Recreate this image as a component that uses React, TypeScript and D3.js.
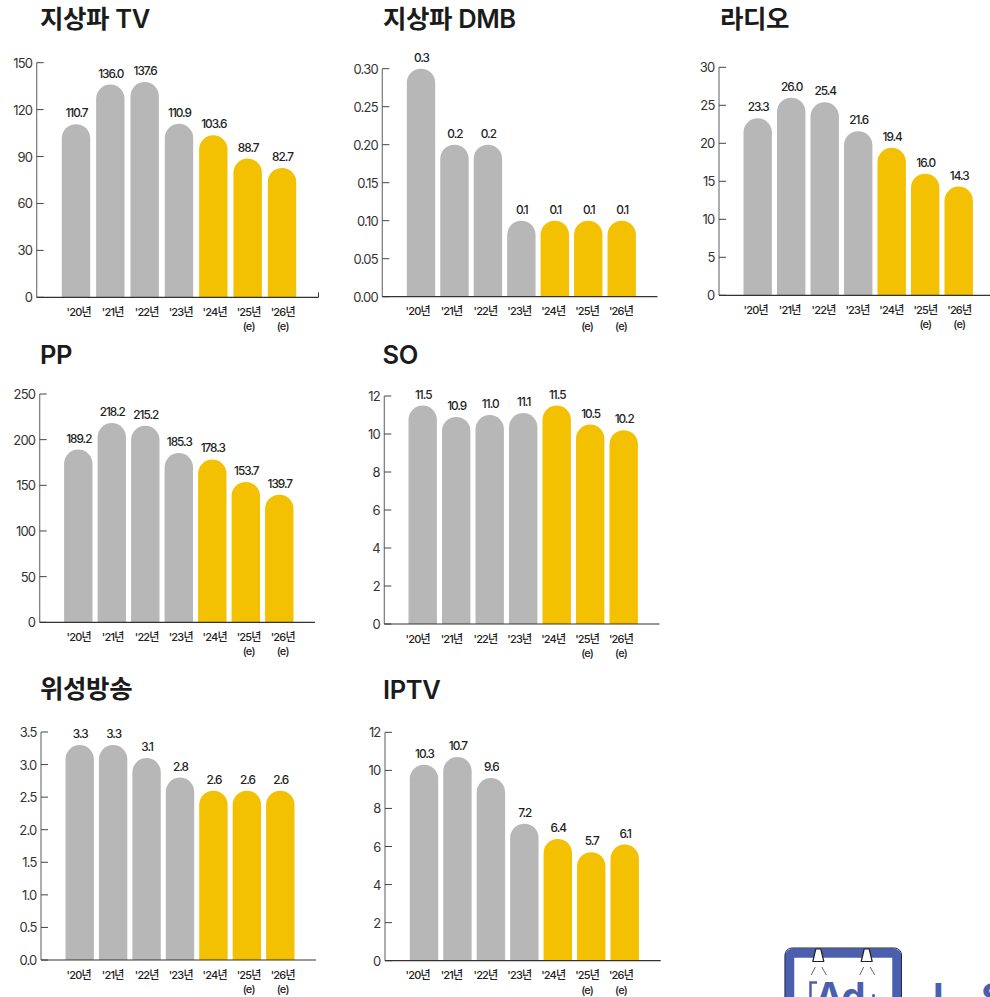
import React from "react";
import * as d3 from "d3";

// Broadcast advertising spend by medium, 2020-2026 (e = estimate).
const years = ["'20년", "'21년", "'22년", "'23년", "'24년", "'25년", "'26년"];
const estimateYears = ["'25년", "'26년"];
const forecastFrom = 4;

const terrestrialTv = [110.7, 136.0, 137.6, 110.9, 103.6, 88.7, 82.7];
const terrestrialDmb = [0.3, 0.2, 0.2, 0.1, 0.1, 0.1, 0.1];
const radio = [23.3, 26.0, 25.4, 21.6, 19.4, 16.0, 14.3];
const pp = [189.2, 218.2, 215.2, 185.3, 178.3, 153.7, 139.7];
const so = [11.5, 10.9, 11.0, 11.1, 11.5, 10.5, 10.2];
const satellite = [3.3, 3.3, 3.1, 2.8, 2.6, 2.6, 2.6];
const iptv = [10.3, 10.7, 9.6, 7.2, 6.4, 5.7, 6.1];

const tvTicks = [0, 30, 60, 90, 120, 150];
const dmbTicks = [0, 0.05, 0.1, 0.15, 0.2, 0.25, 0.3];
const radioTicks = [0, 5, 10, 15, 20, 25, 30];
const ppTicks = [0, 50, 100, 150, 200, 250];
const soTicks = [0, 2, 4, 6, 8, 10, 12];
const satelliteTicks = [0, 0.5, 1, 1.5, 2, 2.5, 3, 3.5];
const iptvTicks = [0, 2, 4, 6, 8, 10, 12];

const GREY = "#b7b7b7";
const GOLD = "#f4c002";
const INK = "#222";
const FONT = "Inter, 'Noto Sans CJK KR', sans-serif";
const BAR_WIDTH = 28.4;

type Panel = {
  title: string;
  values: number[];
  ticks: number[];
  tickFormat: string;
  titleX: number;
  titleY: number;
  axisX: number;
  axisEnd: number;
  top: number;
  base: number;
  bars: [number, number];
  labels: [number, number];
  endTick?: boolean;
};

const panels: Panel[] = [
  { title: "지상파 TV", values: terrestrialTv, ticks: tvTicks, tickFormat: "d", titleX: 40, titleY: 27.5, axisX: 36.7, axisEnd: 318.5, top: 62.7, base: 297.3, bars: [76, 282], labels: [78.7, 282.7], endTick: true },
  { title: "지상파 DMB", values: terrestrialDmb, ticks: dmbTicks, tickFormat: ".2f", titleX: 383, titleY: 28, axisX: 382.3, axisEnd: 657.5, top: 68.7, base: 296.7, bars: [421, 621.7], labels: [417.7, 621] },
  { title: "라디오", values: radio, ticks: radioTicks, tickFormat: "d", titleX: 720, titleY: 28, axisX: 719, axisEnd: 990, top: 67.3, base: 295.3, bars: [757.7, 958.7], labels: [755.7, 959.3] },
  { title: "PP", values: pp, ticks: ppTicks, tickFormat: "d", titleX: 40, titleY: 363.5, axisX: 39.7, axisEnd: 315, top: 394, base: 622.3, bars: [78.3, 279.3], labels: [78.7, 282.7] },
  { title: "SO", values: so, ticks: soTicks, tickFormat: "d", titleX: 382.5, titleY: 363.5, axisX: 384.3, axisEnd: 659.5, top: 396, base: 624, bars: [422.7, 623.7], labels: [417.7, 621] },
  { title: "위성방송", values: satellite, ticks: satelliteTicks, tickFormat: ".1f", titleX: 40, titleY: 698, axisX: 41, axisEnd: 316, top: 732, base: 960, bars: [79.7, 280.3], labels: [78.7, 282.7] },
  { title: "IPTV", values: iptv, ticks: iptvTicks, tickFormat: "d", titleX: 383, titleY: 699, axisX: 385, axisEnd: 660.7, top: 732.3, base: 960.7, bars: [424, 624.7], labels: [417.7, 621] },
];

// Column with a fully rounded top, built with a d3 path.
function roundedBar(x: number, width: number, yTop: number, yBase: number): string {
  const r = width / 2;
  const p = d3.path();
  p.moveTo(x, yBase);
  p.lineTo(x, yTop + r);
  p.arc(x + r, yTop + r, r, Math.PI, 0);
  p.lineTo(x + width, yBase);
  p.closePath();
  return p.toString();
}

function BarPanel({ panel }: { panel: Panel }) {
  const { values, ticks, axisX, axisEnd, top, base } = panel;
  const y = d3.scaleLinear().domain([0, d3.max(ticks) as number]).range([base, top]);
  const barX = d3.scalePoint<string>().domain(years).range(panel.bars);
  const labelX = d3.scalePoint<string>().domain(years).range(panel.labels);
  const fmt = d3.format(panel.tickFormat);
  return (
    <g fontFamily={FONT}>
      <text x={panel.titleX} y={panel.titleY} fontSize={25.5} fontWeight={600} fill="#1b1b1b" letterSpacing={-0.4}>
        {panel.title}
      </text>
      {values.map((v, i) => {
        const cx = barX(years[i]) as number;
        return (
          <g key={years[i]}>
            <path
              d={roundedBar(cx - BAR_WIDTH / 2, BAR_WIDTH, y(v), base)}
              fill={i >= forecastFrom ? GOLD : GREY}
            />
            <text
              x={cx + 0.5}
              y={y(v) - 11}
              textAnchor="middle"
              dominantBaseline="central"
              fontSize={11.8}
              fontWeight={500}
              letterSpacing={-1}
              fill={INK}
            >
              {v.toFixed(1)}
            </text>
          </g>
        );
      })}
      <line x1={axisX} x2={axisX} y1={top} y2={base} stroke="#777" strokeWidth={1.2} />
      {ticks.map((t) => (
        <g key={t}>
          <line x1={axisX} x2={axisX + 7} y1={y(t)} y2={y(t)} stroke="#444" strokeWidth={1} />
          <text
            x={axisX - 4.5}
            y={y(t)}
            textAnchor="end"
            dominantBaseline="central"
            fontSize={13}
            letterSpacing={-0.8}
            fill="#333"
          >
            {fmt(t)}
          </text>
        </g>
      ))}
      <line x1={axisX} x2={axisEnd} y1={base} y2={base} stroke="#333" strokeWidth={1.2} />
      {panel.endTick && <line x1={axisEnd} x2={axisEnd} y1={base - 5} y2={base} stroke="#333" strokeWidth={1} />}
      {years.map((yr) => (
        <g key={yr} fontSize={11} fontWeight={500} fill={INK} textAnchor="middle" letterSpacing={-0.8}>
          <text x={labelX(yr)} y={base + 14.5} dominantBaseline="central">
            {yr}
          </text>
          {estimateYears.includes(yr) && (
            <text x={labelX(yr)} y={base + 29} dominantBaseline="central">
              (e)
            </text>
          )}
        </g>
      ))}
    </g>
  );
}

// Signboard logo cut off by the lower right edge of the page.
function Badge() {
  const blue = "#4a60ae";
  const pins = [818.3, 866.7];
  return (
    <g fontFamily={FONT}>
      <rect x={789.5} y={953} width={107.5} height={70} rx={4} fill="#fff" stroke={blue} strokeWidth={9.5} />
      <rect x={785} y={948} width={116.5} height={80} rx={7} fill="none" stroke="#22294a" strokeWidth={1} />
      {pins.map((px) => (
        <g key={px}>
          <path
            d={`M${px - 2.5} 949 L${px + 2.5} 949 L${px + 5.5} 961.5 L${px - 5.5} 961.5 Z`}
            fill="#fff"
            stroke="#222"
            strokeWidth={1.2}
            strokeLinejoin="round"
          />
          <line x1={px - 3} x2={px - 7} y1={967} y2={975} stroke="#666" strokeWidth={1} />
          <line x1={px + 3.5} x2={px + 8} y1={967} y2={975} stroke="#666" strokeWidth={1} />
        </g>
      ))}
      <path d="M810.5 997 L810.5 982.5 L817 982.5" fill="none" stroke={blue} strokeWidth={2.5} />
      <text x={815} y={1010} fontSize={38} fontWeight={700} letterSpacing={-1} fill={blue}>
        Ad
      </text>
      <circle cx={873.5} cy={995.5} r={1.6} fill={blue} />
      <text x={933} y={1011} fontSize={38} fontWeight={700} fill={blue}>
        L
      </text>
      <text x={981} y={1011} fontSize={38} fontWeight={700} fill={blue}>
        S
      </text>
    </g>
  );
}

export default function App() {
  return (
    <svg
      width={990}
      height={997}
      viewBox="0 0 990 997"
      style={{ position: "absolute", left: 0, top: 0, display: "block", background: "#fff" }}
    >
      {panels.map((p) => (
        <BarPanel key={p.title} panel={p} />
      ))}
      <Badge />
    </svg>
  );
}
